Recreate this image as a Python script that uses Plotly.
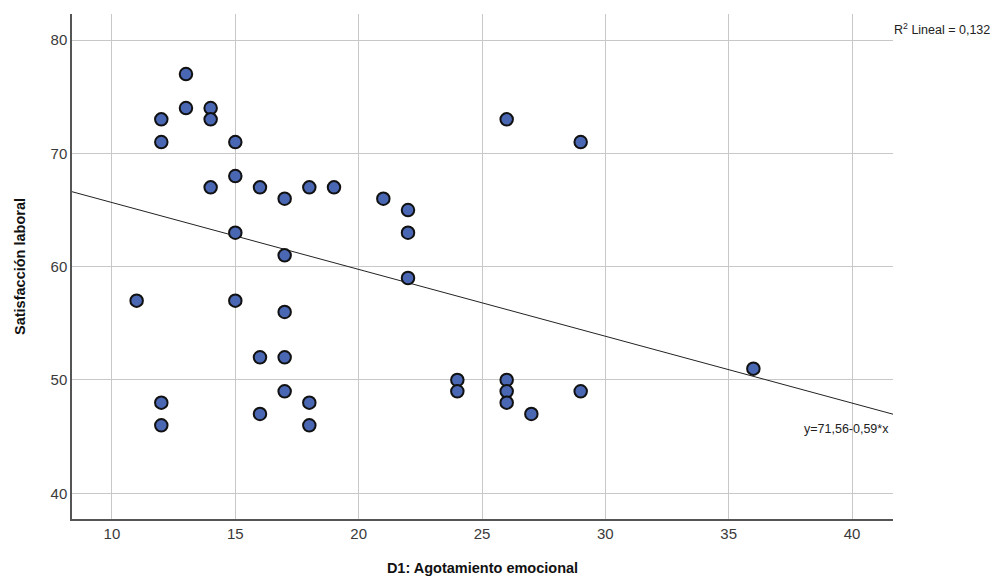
import plotly.graph_objects as go

# Observed pairs: emotional exhaustion (x) vs job satisfaction (y)
agotamiento = [13, 13, 14, 12, 14, 12, 15, 26, 29, 15, 14, 16, 18, 19, 17, 21, 22,
               15, 22, 17, 22, 11, 15, 17, 16, 17, 24, 26, 36, 24, 26, 29, 17, 12,
               18, 26, 16, 27, 12, 18]
satisfaccion = [77, 74, 74, 73, 73, 71, 71, 73, 71, 68, 67, 67, 67, 67, 66, 66, 65,
                63, 63, 61, 59, 57, 57, 56, 52, 52, 50, 50, 51, 49, 49, 49, 49, 48,
                48, 48, 47, 47, 46, 46]

# Fitted linear model
intercepto = 71.56
pendiente = -0.59
r2 = "0,132"

x_range = [8.38, 41.66]
y_range = [37.73, 82.3]

x_ticks = [10, 15, 20, 25, 30, 35, 40]
y_ticks = [40, 50, 60, 70, 80]

fit_x = x_range
fit_y = [intercepto + pendiente * v for v in fit_x]

FONT = "Liberation Sans, Arial"

fig = go.Figure()
fig.add_trace(go.Scatter(
    x=fit_x, y=fit_y, mode="lines",
    line=dict(color="#222222", width=1), hoverinfo="skip", showlegend=False,
))
fig.add_trace(go.Scatter(
    x=agotamiento, y=satisfaccion, mode="markers",
    marker=dict(size=12.5, color="#4a67b4", line=dict(color="#111111", width=2)),
    showlegend=False,
))

fig.add_annotation(
    xref="paper", yref="paper", x=1.0, y=1.0, xanchor="left", yanchor="top",
    xshift=-1, yshift=-5,
    text=f"R<sup>2</sup> Lineal = {r2}", showarrow=False,
    font=dict(family=FONT, size=12.5, color="#222222"),
)
fig.add_annotation(
    x=x_range[1], y=intercepto + pendiente * x_range[1],
    xanchor="right", yanchor="top", yshift=-6, xshift=-2,
    text="y=71,56-0,59*x", showarrow=False,
    font=dict(family=FONT, size=12.5, color="#222222"),
)

axis_font = dict(family=FONT, size=15, color="#3a3a3a")
title_font = dict(family=FONT, size=14.5, color="#111111")
fig.update_layout(
    width=993, height=583,
    margin=dict(l=72, r=100, t=14, b=64),
    paper_bgcolor="white", plot_bgcolor="white",
    font=dict(family=FONT),
    xaxis=dict(
        range=x_range, tickvals=x_ticks, ticks="", showgrid=True,
        gridcolor="#c8c8c8", gridwidth=1, zeroline=False,
        showline=True, linecolor="#555555", linewidth=1.5,
        tickfont=axis_font, automargin=False,
        title=dict(text="<b>D1: Agotamiento emocional</b>", font=title_font, standoff=22),
    ),
    yaxis=dict(
        range=y_range, tickvals=y_ticks, ticks="", showgrid=True,
        gridcolor="#c8c8c8", gridwidth=1, zeroline=False,
        showline=True, linecolor="#555555", linewidth=1.5,
        tickfont=axis_font, automargin=False,
        title=dict(text="<b>Satisfacción laboral</b>", font=title_font, standoff=21),
    ),
)

fig.write_html("out.html")
